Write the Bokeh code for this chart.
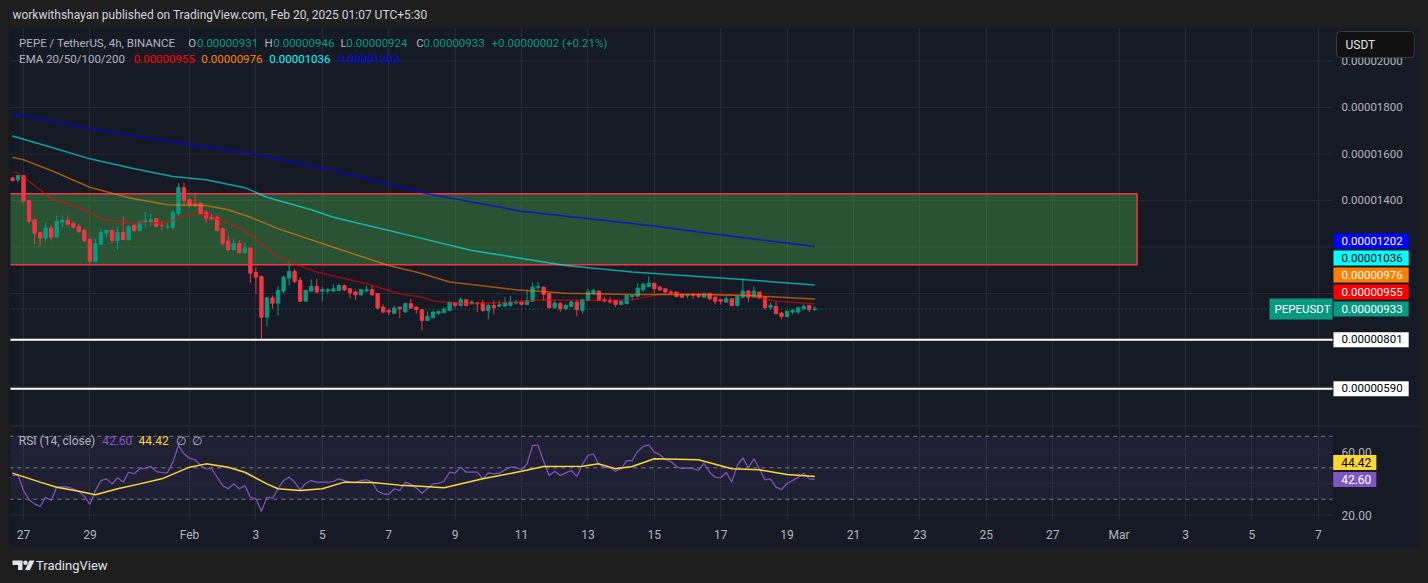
import numpy as np
import pandas as pd
from jinja2 import Template
from bokeh.plotting import figure
from bokeh.layouts import column
from bokeh.models import (Range1d, FixedTicker, Span, Label, Grid, LinearAxis,
                          ColumnDataSource, PrintfTickFormatter)
from bokeh.embed import file_html
from bokeh.resources import INLINE

# ------------------------------------------------------------------ data
SCALE = 1e-8                       # prices below are in units of 1e-8 USDT
first_candle = "2025-01-26 16:00"  # 4h candles
opens = [1497,1489,1507,1400,1317,1262,1238,1282,1242,1307,
         1314,1301,1288,1271,1232,1139,1211,1259,1271,1228,
         1262,1231,1294,1271,1308,1307,1321,1293,1285,1285,
         1343,1455,1404,1386,1388,1350,1328,1328,1278,1225,
         1189,1215,1176,1196,1090,1073,898,981,958,1010,
         1066,1095,1056,967,1010,1030,1010,1010,1010,1013,
         1034,1020,1006,994,1010,1016,999,941,927,915,
         941,920,956,941,930,884,896,915,918,927,
         961,948,973,956,959,959,927,948,944,946,
         948,959,963,953,967,1027,1027,999,938,956,
         934,944,963,927,970,999,1010,973,970,970,
         953,956,987,988,1016,1030,1044,1027,1020,1006,
         1006,996,992,996,994,984,1001,984,973,963,
         977,948,984,1010,984,1006,984,941,944,915,
         901,920,920,934,948,931]
highs = [1502,1507,1507,1400,1317,1262,1302,1291,1335,1335,
         1335,1310,1300,1280,1240,1235,1278,1274,1275,1285,
         1331,1292,1297,1314,1350,1343,1321,1311,1306,1357,
         1474,1477,1411,1429,1390,1357,1343,1335,1285,1249,
         1232,1228,1219,1196,1113,1077,987,991,1030,1077,
         1142,1106,1070,1016,1060,1063,1027,1023,1039,1042,
         1039,1023,1013,1020,1034,1034,1003,953,934,948,
         941,960,977,944,930,923,927,923,941,963,
         961,984,977,970,963,973,956,970,970,984,
         991,973,970,1013,1049,1049,1030,1003,970,963,
         956,970,973,977,1020,1020,1013,984,984,973,
         967,991,991,1044,1046,1073,1044,1034,1023,1016,
         1006,1001,1001,1001,1001,1001,1001,987,977,987,
         977,987,1063,1016,1030,1006,984,960,966,920,
         923,934,941,953,948,946]
lows = [1483,1479,1390,1302,1214,1206,1224,1228,1242,1285,
        1292,1278,1259,1221,1130,1135,1209,1242,1216,1189,
        1230,1230,1265,1268,1285,1292,1289,1271,1278,1275,
        1335,1378,1369,1371,1340,1302,1314,1266,1206,1182,
        1185,1171,1170,1047,999,798,859,934,905,999,
        1034,1044,963,963,1008,1003,967,999,1008,1010,
        1010,980,973,991,1010,991,931,915,908,913,
        894,920,934,913,841,884,893,908,916,927,
        938,946,944,953,920,920,888,910,941,944,
        944,953,948,953,963,1013,970,936,938,920,
        930,941,902,913,967,996,967,963,956,941,
        953,953,970,984,1006,1027,1001,1010,1001,996,
        984,980,980,977,980,984,970,953,953,963,
        944,944,980,963,984,977,930,930,910,888,
        896,910,910,930,920,924]
closes = [1485,1507,1397,1311,1259,1238,1282,1242,1310,1315,
          1297,1285,1267,1228,1139,1214,1262,1271,1228,1262,
          1232,1288,1271,1305,1312,1317,1289,1291,1289,1350,
          1455,1400,1380,1378,1343,1324,1321,1271,1216,1189,
          1215,1176,1196,1087,1070,898,981,958,1013,1070,
          1095,1052,967,1013,1030,1006,1016,1016,1020,1034,
          1016,1003,994,1016,1016,994,937,920,920,937,
          934,956,937,931,884,901,920,923,932,963,
          948,973,948,963,956,927,948,938,951,959,
          963,963,953,970,1027,1030,996,938,959,934,
          948,963,930,973,1006,1013,970,967,963,953,
          967,991,991,1023,1039,1044,1020,1016,1006,1001,
          987,984,994,992,987,1001,977,967,967,977,
          948,987,1010,984,1010,980,938,948,913,901,
          923,927,938,944,931,933]

# EMA readings (candle index, value)
ema20_idx = [0,1,5,7,13,16,22,28,31,35,42,47,50,55,64,70,74,76,82,91,96,103,112,117,124,133,138,145]
ema20_val = [1522,1519,1446,1407,1360,1322,1301,1305,1335,1340,1271,1172,1135,1092,1042,999,984,968,956,963,973,970,973,996,999,991,967,955]
ema50_idx = [0,2,7,14,21,28,35,39,43,48,58,68,74,79,91,100,112,124,133,145]
ema50_val = [1586,1575,1529,1457,1412,1382,1378,1360,1328,1279,1199,1120,1086,1049,1016,1001,996,996,991,976]
ema100_idx = [0,7,14,22,29,35,42,46,54,58,74,83,100,112,124,136,145]
ema100_val = [1677,1629,1579,1536,1503,1489,1455,1414,1360,1328,1237,1185,1120,1092,1073,1053,1036]
ema200_idx = [0,14,29,43,58,75,92,116,124,145]
ema200_val = [1773,1708,1651,1601,1529,1429,1354,1290,1264,1202]

rsi_vals = [45.0,45.5,35.6,29.7,27.1,25.4,31.3,29.2,37.7,38.0,
            37.7,36.7,35.0,32.0,26.7,35.6,41.9,43.0,39.8,43.7,
            40.9,47.2,46.2,49.4,49.8,50.8,47.6,47.0,46.8,53.6,
            64.2,58.9,56.1,55.1,51.5,49.4,49.4,44.0,38.8,36.7,
            39.8,36.7,38.8,31.3,30.3,22.4,31.3,30.7,36.7,41.9,
            44.0,40.9,36.0,40.2,41.9,40.9,40.9,40.9,41.3,43.0,
            41.9,40.9,40.6,41.9,42.4,40.9,35.1,33.5,33.1,36.7,
            35.6,40.9,39.5,37.2,33.9,36.7,39.8,40.2,41.5,47.2,
            46.6,50.4,47.2,47.2,47.2,43.0,46.8,46.2,46.6,48.7,
            50.4,50.4,48.7,52.5,64.2,64.2,54.2,45.1,47.8,45.1,
            46.8,48.3,44.5,52.1,57.8,58.9,51.9,50.4,50.0,47.8,
            49.4,54.6,54.6,60.5,63.5,64.6,59.9,58.4,55.1,54.0,
            50.8,49.4,50.0,49.4,48.3,52.9,47.2,44.0,43.7,47.2,
            40.9,51.5,56.3,50.0,55.7,49.4,42.4,43.0,37.7,36.2,
            40.2,41.9,44.0,46.6,43.0,42.6]
rsi_ma_idx = [0,5,8,12,15,19,23,27,32,35,39,42,46,48,52,56,60,65,70,73,78,85,92,96,103,106,109,112,116,124,130,135,140,145]
rsi_ma_val = [46.6,40.9,37.7,35.1,32.9,36.7,39.8,43.0,50.4,52.5,50.4,47.2,39.8,36.7,35.6,36.7,40.9,40.6,39.0,38.5,37.3,43.0,47.8,50.8,51.0,52.5,49.4,50.8,55.7,55.1,49.4,48.7,45.7,44.42]

zone_top, zone_bottom = 1429, 1123
zone_end = "2025-03-01 13:00"
support_levels = [801, 590]
price_grid = [600, 800, 1000, 1200, 1400, 1600, 1800, 2000]
price_ticks = [1400, 1600, 1800, 2000]
rsi_levels = [70, 50, 30]
rsi_grid = [20, 40, 60]
rsi_ticks = [20, 60]
tick_dates = ["2025-01-27","2025-01-29","2025-02-01","2025-02-03","2025-02-05","2025-02-07",
              "2025-02-09","2025-02-11","2025-02-13","2025-02-15","2025-02-17","2025-02-19",
              "2025-02-21","2025-02-23","2025-02-25","2025-02-27","2025-03-01","2025-03-03",
              "2025-03-05","2025-03-07"]
tick_labels = ["27","29","Feb","3","5","7","9","11","13","15","17","19","21","23","25","27",
               "Mar","3","5","7"]

# ------------------------------------------------------------------ styles
OUTER = "#1e1e1e"
BG = "#161a25"
GRID = "#262a35"
TXT = "#b2b5be"
GREEN = "#089981"
RED = "#f23645"
FONT = "Roboto"
W = 1412

t0 = pd.Timestamp("2025-01-27")
def to_days(ts):
    return np.asarray((pd.DatetimeIndex(ts) - t0).total_seconds() / 86400.0)

n = len(opens)
xd = to_days(pd.date_range(first_candle, periods=n, freq="4h"))
tick_days = [int(round(d)) for d in to_days(tick_dates)]
zone_right = float(to_days([zone_end])[0])
X0, XA, X1 = -0.3916, 39.428, 42.078     # frame left, price-scale edge, frame right
XL = X0 - 1

o = np.array(opens, float); h = np.array(highs, float)
l = np.array(lows, float); c = np.array(closes, float)
colors = np.where(c >= o, GREEN, RED)
src = ColumnDataSource(dict(x=xd, h=h * SCALE, l=l * SCALE,
                            top=np.maximum(o, c) * SCALE, bottom=np.minimum(o, c) * SCALE,
                            color=colors))

def fmt(v):
    return f"{v * SCALE:.8f}"

def label(fig, text, x, y, color, size="11.5px", xu="screen", yu="screen", **kw):
    fig.add_layout(Label(x=x, y=y, x_units=xu, y_units=yu, text=text, text_color=color,
                         text_font=FONT, text_font_size=size, text_baseline="middle",
                         text_align=kw.pop("align", "left"), **kw))

def style_axis(ax, size="11.5px", standoff=9):
    ax.major_label_text_color = TXT
    ax.major_label_text_font = FONT
    ax.major_label_text_font_size = size
    ax.major_tick_line_color = None
    ax.minor_tick_line_color = None
    ax.axis_line_color = None
    ax.major_tick_in = 0
    ax.major_tick_out = 0
    ax.major_label_standoff = standoff

def hlines(fig, ys, **kw):
    fig.segment(x0=[XL] * len(ys), x1=[XA] * len(ys), y0=ys, y1=ys, **kw)

def pane(height, y_range, **kw):
    xr = kw.pop("x_range", None) or Range1d(X0, X1)
    f = figure(width=W, height=height, x_range=xr,
               y_range=y_range, toolbar_location=None, output_backend="svg",
               outline_line_color=None, y_axis_location=None,
               min_border_top=0, min_border_bottom=0, min_border_left=2, min_border_right=0,
               background_fill_color=BG, border_fill_color=BG, **kw)
    for g in f.grid:
        g.visible = False
    f.add_layout(Grid(dimension=0, ticker=FixedTicker(ticks=tick_days), grid_line_color=GRID))
    return f

# ------------------------------------------------------------------ header
hdr = figure(width=W, height=19, x_range=Range1d(8, 1420), y_range=Range1d(27, 8),
             toolbar_location=None, output_backend="svg", outline_line_color=None,
             x_axis_location=None, y_axis_location=None, min_border=0,
             background_fill_color=OUTER, border_fill_color=OUTER)
for g in hdr.grid:
    g.visible = False
label(hdr, "workwithshayan published on TradingView.com, Feb 20, 2025 01:07 UTC+5:30",
      9.9, 14, "#d1d4dc", size="12px", xu="data", yu="data")

# ------------------------------------------------------------------ price pane
p = pane(398, Range1d(432 * SCALE, 2144 * SCALE), x_axis_location=None)
hlines(p, [v * SCALE for v in price_grid], line_color=GRID, line_width=1)
ya = LinearAxis(fixed_location=XA, ticker=FixedTicker(ticks=[v * SCALE for v in price_ticks]),
                formatter=PrintfTickFormatter(format="%.8f"))
style_axis(ya)
p.add_layout(ya, "right")

p.quad(left=XL, right=zone_right, bottom=zone_bottom * SCALE, top=zone_top * SCALE,
       fill_color="#4caf50", fill_alpha=0.38, line_color=RED, line_width=1.5)

p.segment(x0="x", x1="x", y0="l", y1="h", line_color="color", line_width=1, source=src)
p.vbar(x="x", width=0.1, top="top", bottom="bottom", fill_color="color",
       line_color="color", line_width=1, source=src)

emas = [(ema20_idx, ema20_val, "#ff0000", 0.55), (ema50_idx, ema50_val, "#ff8000", 0.6),
        (ema100_idx, ema100_val, "#00ffff", 0.6), (ema200_idx, ema200_val, "#0000ff", 0.7)]
for idx, vals, col, a in emas:
    p.line(xd[idx], np.array(vals) * SCALE, line_color=col, line_alpha=a, line_width=1.5)

hlines(p, [lev * SCALE for lev in support_levels], line_color="white", line_width=2)
hlines(p, [closes[-1] * SCALE], line_color=GREEN, line_width=1, line_dash="1 3")

# legend
chg = closes[-1] - closes[-2]
row1 = [("PEPE / TetherUS, 4h, BINANCE", 8.6, TXT),
        ("O", 177.7, TXT), (fmt(opens[-1]), 186.4, GREEN),
        ("H", 254, TXT), (fmt(highs[-1]), 262.7, GREEN),
        ("L", 330, TXT), (fmt(lows[-1]), 335.8, GREEN),
        ("C", 405.8, TXT), (fmt(closes[-1]), 413, GREEN),
        (f"+{fmt(chg)} (+{chg / closes[-2] * 100:.2f}%)", 481, GREEN)]
for t, x, col in row1:
    label(p, t, x, 383, col)
row2 = [("EMA 20/50/100/200", 8.6, TXT), (fmt(ema20_val[-1]), 123.2, "#ff0000"),
        (fmt(ema50_val[-1]), 190.8, "#ff8000"), (fmt(ema100_val[-1]), 258.8, "#00ffff"),
        (fmt(ema200_val[-1]), 328, "#0000ff")]
for t, x, col in row2:
    label(p, t, x, 367, col)

# price-scale labels (padding = left, right, top, bottom)
step = 17 / (398 / (2144 - 432))      # 17 px in price units
stack = [(closes[-1], GREEN, "white"), (ema20_val[-1], "#ff0000", "white"),
         (ema50_val[-1], "#ff8000", "white"), (ema100_val[-1], "#00ffff", "black"),
         (ema200_val[-1], "#0000ff", "white")]
for k, (v, bgc, tc) in enumerate(stack):
    label(p, fmt(v), 1323, (closes[-1] + k * step) * SCALE, tc, yu="data",
          background_fill_color=bgc, padding=(8, 6, 3, 4))
for lev in support_levels:
    label(p, fmt(lev), 1323, lev * SCALE, "black", yu="data",
          background_fill_color="white", padding=(8, 6, 3, 4))
label(p, "PEPEUSDT", 1259, closes[-1] * SCALE, "white", yu="data",
      background_fill_color=GREEN, padding=(5, 2, 3, 4))
label(p, "USDT", 1326, 381, "#e0e3eb", size="12px",
      background_fill_color="#111111", border_line_color="#3a3a3a",
      padding=(9, 39, 6, 6), border_radius=4)

# ------------------------------------------------------------------ RSI pane
r = pane(123, Range1d(16.54, 76.86), x_range=p.x_range)
r.min_border_bottom = 28
r.quad(left=XL, right=XA, bottom=rsi_levels[-1], top=rsi_levels[0],
       fill_color="#7e57c2", fill_alpha=0.1, line_color=None)
hlines(r, rsi_grid, line_color=GRID, line_width=1)
hlines(r, rsi_levels, line_color="#787b86", line_width=1, line_dash="4 4")
r.add_layout(Span(location=76.55, dimension="width", line_color="#2a2e39", line_width=1.5))
r.line(xd, rsi_vals, line_color="#7e57c2", line_width=1.2)
r.line(xd[rsi_ma_idx], rsi_ma_val, line_color="#fdd835", line_width=1.5)

ry = LinearAxis(fixed_location=XA, ticker=FixedTicker(ticks=rsi_ticks),
                formatter=PrintfTickFormatter(format="%.2f"))
style_axis(ry, size="12px")
r.add_layout(ry, "right")
rx = r.xaxis[0]
rx.ticker = FixedTicker(ticks=tick_days)
rx.major_label_overrides = {d: t for d, t in zip(tick_days, tick_labels)}
style_axis(rx, size="12px", standoff=7)

label(r, "RSI (14, close)", 8.3, 80, TXT, size="12px")
label(r, f"{rsi_vals[-1]:.2f}", 91.7, 80, "#7e57c2", size="12px")
label(r, f"{rsi_ma_val[-1]:.2f}", 128, 80, "#fdd835", size="12px")
label(r, "\u2205", 165, 80, TXT, size="12px")
label(r, "\u2205", 181.7, 80, TXT, size="12px")
label(r, f"{rsi_ma_val[-1]:.2f}", 1322.7, rsi_vals[-1] + 17 / 1.575, "black", size="12px",
      yu="data", background_fill_color="#fdd835", padding=(8, 5, 3, 3))
label(r, f"{rsi_vals[-1]:.2f}", 1322.7, rsi_vals[-1], "white", size="12px",
      yu="data", background_fill_color="#7e57c2", padding=(8, 5, 3, 3))

# ------------------------------------------------------------------ footer
ftr = figure(width=W, height=26, x_range=Range1d(8, 1420), y_range=Range1d(574, 548),
             toolbar_location=None, output_backend="svg", outline_line_color=None,
             x_axis_location=None, y_axis_location=None, min_border=0,
             background_fill_color=OUTER, border_fill_color=OUTER)
for g in ftr.grid:
    g.visible = False
LOGO = "#e0e3eb"
ftr.patch([10, 20, 20, 15.5, 15.5, 10], [560, 560, 569.5, 569.5, 564.5, 564.5],
          fill_color=LOGO, line_color=None)
ftr.scatter([23], [562.3], size=4.5, fill_color=LOGO, line_color=None)
ftr.patch([27, 32, 27.5, 22.5], [560, 560, 569.5, 569.5], fill_color=LOGO, line_color=None)
label(ftr, "TradingView", 33.5, 565, LOGO, size="13px", xu="data", yu="data")

layout = column(hdr, p, r, ftr, spacing=0)

tpl = Template("""{% extends base %}
{% block preamble %}<style>html, body { background: #1e1e1e; } body { padding: 8px !important; }</style>{% endblock %}""")
html = file_html(layout, INLINE, title="PEPEUSDT 4h", template=tpl)
open("out.html", "w").write(html)
